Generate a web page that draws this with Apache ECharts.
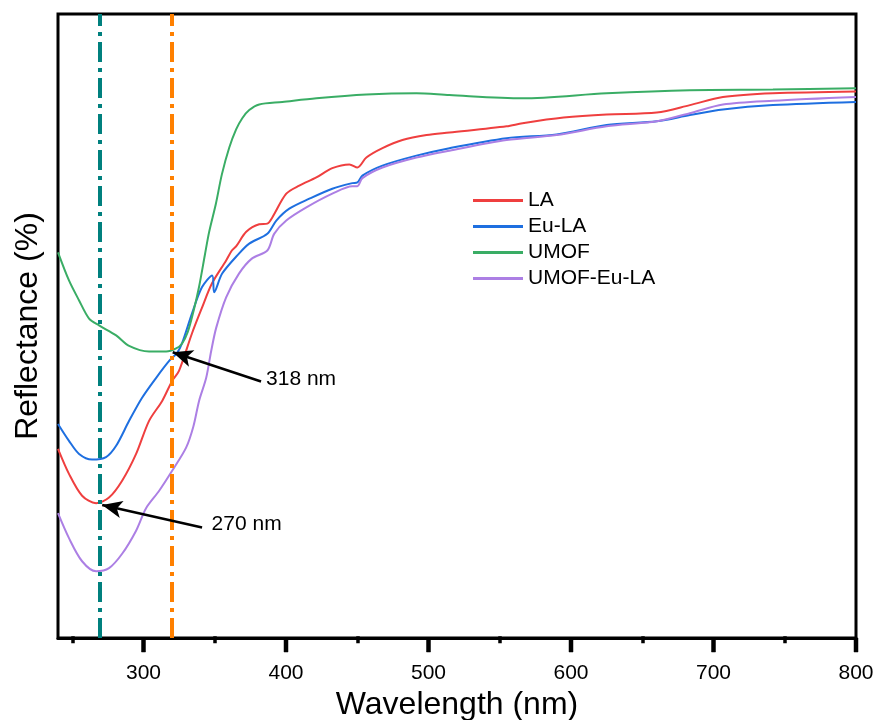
<!DOCTYPE html>
<html>
<head>
<meta charset="utf-8">
<script src="https://cdn.jsdelivr.net/npm/echarts@6/dist/echarts.min.js"></script>
<style>html,body{margin:0;padding:0;background:#fff}#c{width:877px;height:720px}</style>
</head>
<body>
<div id="c"></div>
<script>
// Wavelength (nm) / reflectance (arbitrary, % scale without labels)
var laX  = [240,247.7,256.9,266.7,275.8,285,294.8,303.9,313.1,320.1,324.9,334,341,348,358,362,365.1,372.1,381.2,386.9,390.4,400.2,409.3,421.3,432.5,444.5,450.1,456.4,467.7,481.7,498.6,514.7,554.8,566,594.8,625,660.2,683.4,706.6,741.7,800];
var laY  = [30.0,26.0,22.5,21.3,22.2,24.9,29.2,34.5,37.7,40.9,42.5,48.5,52.6,56.5,60.2,61.8,62.5,64.8,66.0,66.1,67.1,70.9,72.2,73.5,75.0,75.6,75.1,76.7,78.2,79.5,80.3,80.7,81.7,82.2,83.1,83.6,83.9,85.1,86.4,87.0,87.3];

var euX  = [240,247.7,254.8,263.9,273.7,280.8,289.9,299,308.9,318,323.6,327,334,341,348.2,349.6,355.2,367,374.2,386.9,393.2,402.3,416.4,432.5,446.6,450.1,453.6,467.7,491.5,514.7,554.8,589.9,625,660.2,683.4,706.6,741.7,800];
var euY  = [34.0,31.3,29.2,28.3,28.7,30.5,34.5,38.2,41.4,44.1,45.4,46.9,51.7,55.9,57.8,55.1,58.1,61.3,62.9,64.5,66.6,68.5,70.1,71.7,72.6,72.7,73.8,75.4,77.0,78.2,79.8,80.4,81.9,82.5,83.5,84.4,85.1,85.6];

var umX  = [240,247.7,254.8,261.8,268.8,280.8,289.9,303.9,315.9,322.9,327.1,331,335,339,343,346,350.8,355,360.2,365,369.3,374.2,381.2,397.4,421.3,456.4,491.5,514.7,566,625,683.4,741.7,800];
var umY  = [61.5,57.0,53.8,50.9,49.8,48.2,46.5,45.6,45.6,46.1,46.9,48.7,52.0,56.0,61.0,64.7,69.3,74.0,78.3,81.2,83.0,84.3,85.2,85.6,86.2,86.8,87.0,86.7,86.2,87.0,87.5,87.6,87.8];

var mixX = [240,247.7,256.9,266.7,275.8,285,294.8,301.8,311,320.1,329.9,335,339,344,347.5,351,358,367,376,386.9,391.8,400.2,414.3,432.5,446.6,450.1,453.6,467.7,491.5,514.7,554.8,589.9,625,660.2,683.4,706.6,741.7,800];
var mixY = [19.7,15.7,12.0,10.4,10.9,13.2,16.9,20.5,23.3,26.5,30.2,33.6,37.7,41.4,45.7,49.4,54.3,58.1,60.5,61.8,64.5,66.6,68.7,70.9,72.1,72.1,73.4,75.1,76.7,77.8,79.5,80.3,81.7,82.5,83.8,85.2,85.8,86.4];

var seriesNames = ['LA','Eu-LA','UMOF','UMOF-Eu-LA'];
var seriesColors = ['#EF3F3F','#1E6FE0','#3AAD65','#AC7FE4'];
var majorTicks = [300,400,500,600,700,800];
var minorTicks = [250,350,450,550,650,750];
var guideX = [269, 320];              // dash-dot guide lines
var arrows = [                         // [from, to] in data units
  [[382.5,40.8],[320.5,45.5]],
  [[341.1,17.4],[271.0,21.0]]
];
var notes = [{text:'318 nm', at:[386,41.1]},{text:'270 nm', at:[347.8,18.0]}];

function zip(xs, ys){ return xs.map(function(x,i){ return [x, ys[i]]; }); }
var seriesData = [zip(laX,laY), zip(euX,euY), zip(umX,umY), zip(mixX,mixY)];

var FONT = 'Liberation Sans, Arial, sans-serif';
var Y_MIN = -0.3, Y_MAX = 99.7;
var chart = echarts.init(document.getElementById('c'), null, {renderer:'canvas'});

var series = seriesNames.map(function(n,i){
  return {
    name: n, type: 'line', data: seriesData[i], showSymbol: false, symbol: 'none',
    smooth: 0.3,
    lineStyle: {color: seriesColors[i], width: 2}, itemStyle:{color: seriesColors[i]},
    z: 2
  };
});

var mlData = [
  {xAxis: guideX[0], symbol:'none', lineStyle:{color:'#00807E', width:4, type:[20,6,4,6]}},
  {xAxis: guideX[1], symbol:'none', lineStyle:{color:'#FF8000', width:4, type:[20,6,4,6]}}
];
arrows.forEach(function(a){
  mlData.push([{coord:a[0], symbol:'none'},{coord:a[1], symbol:'arrow', symbolSize:[13,20]}]);
});
series[0].markLine = {
  silent: true, animation: false, symbol: ['none','none'],
  label: {show:false},
  lineStyle: {color:'#000', width:2.5, type:'solid'},
  data: mlData, z: 5
};

var axisBase = {type:'value', min:240, max:800, position:'bottom', splitLine:{show:false}};

chart.setOption({
  animation: false,
  textStyle: {fontFamily: FONT},
  grid: {left:58, top:14, right:21, bottom:82, show:true, borderColor:'#000', borderWidth:3,
         backgroundColor:'transparent', containLabel:false, outerBoundsMode:'none'},
  legend: {
    data: seriesNames, orient:'vertical', left: 468, top: 185,
    icon: 'rect', itemWidth: 50, itemHeight: 3, itemGap: 5,
    textStyle: {fontFamily: FONT, fontSize: 21, color:'#000', lineHeight: 21},
    selectedMode: false
  },
  xAxis: [
    Object.assign({}, axisBase, {
      name:'Wavelength (nm)', nameLocation:'middle', nameGap:49,
      nameTextStyle:{fontFamily:FONT, fontSize:32, color:'#000'},
      axisLine:{show:true, onZero:false, lineStyle:{color:'#000', width:3}},
      axisTick:{show:false},
      axisLabel:{show:true, margin:25, fontFamily:FONT, fontSize:21, color:'#000', customValues: majorTicks.slice()}
    }),
    Object.assign({}, axisBase, {
      axisLine:{show:false},
      axisTick:{show:true, length:7, lineStyle:{color:'#000', width:3.5}, customValues: minorTicks.slice()},
      axisLabel:{show:false}
    })
  ],
  yAxis: {
    type:'value', min:Y_MIN, max:Y_MAX,
    name:'Reflectance (%)', nameLocation:'middle', nameGap:14, nameRotate:90,
    nameTextStyle:{fontFamily:FONT, fontSize:32, color:'#000'},
    axisLine:{show:false}, axisTick:{show:false}, axisLabel:{show:false}, splitLine:{show:false}
  },
  series: series
});

// annotation texts and major ticks, positioned through the axes
var gr = notes.map(function(n){
  var p = chart.convertToPixel({xAxisIndex:0, yAxisIndex:0}, n.at);
  return {type:'text', x:p[0], y:p[1], z:100,
    style:{text:n.text, fill:'#000', font:'21px ' + FONT, textAlign:'left', textVerticalAlign:'middle'}};
});
majorTicks.forEach(function(v){
  var p = chart.convertToPixel({xAxisIndex:0, yAxisIndex:0}, [v, Y_MIN]);
  gr.push({type:'rect', z:100, silent:true,
    shape:{x:p[0] - 2, y:p[1], width:4, height:14},
    style:{fill:'#000', stroke:'#000', lineWidth:0.5}});
});
chart.setOption({graphic: gr});
</script>
</body>
</html>
